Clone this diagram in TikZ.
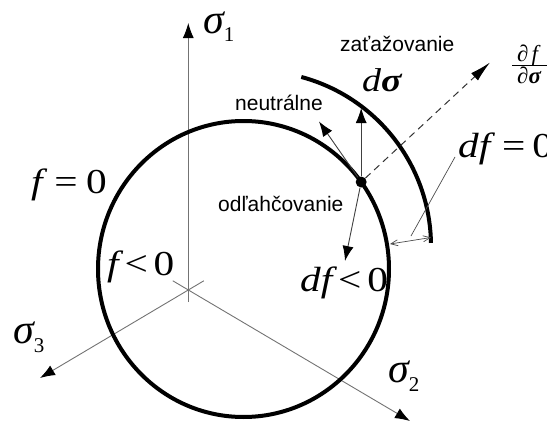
\documentclass[tikz,border=0pt]{standalone}
\usepackage{fontspec}
\usepackage{graphicx}
\usetikzlibrary{arrows.meta}
\newfontfamily\lblfont{Liberation Sans}
\newfontfamily\gfont{Liberation Serif}
\newcommand{\mvar}[1]{{\itshape #1}}
\newcommand{\widetxt}[1]{\scalebox{1.18}[1]{#1}}
\tikzset{
  axisarrow/.style={draw=black!55, line width=0.9pt, -{Latex[length=15pt,width=11pt,color=black]}},
  vecarrow/.style={draw=black!75, line width=0.9pt, -{Latex[length=15pt,width=11pt,color=black]}},
  thickcurve/.style={line width=4pt},
  sanslabel/.style={font=\lblfont\fontsize{21}{21}\selectfont, inner sep=0pt, anchor=base west},
  mathlabel/.style={font=\gfont\fontsize{35}{35}\selectfont, inner sep=0pt, anchor=base west},
  siglabel/.style={font=\gfont\fontsize{42}{42}\selectfont, inner sep=0pt, anchor=base west},
}
\begin{document}
\begin{tikzpicture}[x=1pt,y=-1pt]
\useasboundingbox (0,0) rectangle (547,423);
% axes
\coordinate (O) at (188.3,290);
\coordinate (s1) at (188.3,23);
\coordinate (s1b) at (188.3,302);
\coordinate (s2) at (410,421);
\coordinate (s2b) at (172.8,280.8);
\coordinate (s3) at (40,378);
\coordinate (s3b) at (203.8,280.8);
\draw[axisarrow] (s1b) -- (s1);
\draw[axisarrow] (s2b) -- (s2);
\draw[axisarrow] (s3b) -- (s3);
% yield surface and loaded surface
\coordinate (C) at (243.5,269);
\draw[thickcurve] (C) ellipse [x radius=145.5, y radius=148];
\coordinate (C2) at (256,246);
\draw[thickcurve] (C2) ++(-75:175) arc[start angle=-75, end angle=-1, radius=175];
% stress point
\node[circle, fill=black, inner sep=0pt, minimum size=11pt] (P) at (361.2,182) {};
\coordinate (tU) at (361.2,108);
\coordinate (tN) at (319,121.5);
\coordinate (tD) at (345,261);
\coordinate (tG) at (490,62.5);
\draw[vecarrow] (P) -- (tU);
\draw[vecarrow] (P) -- (tN);
\draw[vecarrow] (P) -- (tD);
\draw[black!80, line width=1pt, dash pattern=on 7pt off 5pt, -{Latex[length=21pt,width=10pt,color=black]}] (P) -- (tG);
% df = 0 gap
\coordinate (dA) at (390,244);
\coordinate (dB) at (431,237.5);
\draw[black!70, line width=0.7pt, {Straight Barb[length=7pt,width=6pt]}-{Straight Barb[length=7pt,width=6pt]}] (dA) -- (dB);
\coordinate (lA) at (455,157);
\coordinate (lB) at (411,236);
\draw[black!70, line width=0.7pt] (lA) -- (lB);
% labels
\node[sanslabel] (zat) at (340,52) {zaťažovanie};
\node[sanslabel] (neu) at (235,110.5) {neutrálne};
\node[sanslabel] (odl) at (218,211) {odľahčovanie};
\node[mathlabel] (feq) at (31,193) {\widetxt{\mvar{f}\hspace{10pt}=\hspace{7pt}0}};
\node[mathlabel] (flt) at (107,275) {\widetxt{\mvar{f}\hspace{5pt}<\hspace{5pt}0}};
\node[mathlabel] (dflt) at (300,291) {\widetxt{\mvar{df}\hspace{5pt}<\hspace{5pt}0}};
\node[mathlabel] (dfeq) at (458,157) {\widetxt{\mvar{df}\hspace{10pt}=\hspace{6pt}0}};
\node[mathlabel, font=\gfont\fontsize{33}{33}\selectfont] (dsig) at (362,91) {\scalebox{1.15}[1]{\mvar{d}{\bfseries\itshape σ}}};
\node[siglabel] (l1) at (203,33) {\mvar{σ}\raisebox{-9pt}{\fontsize{21}{21}\selectfont 1}};
\node[siglabel] (l2) at (388,382) {\mvar{σ}\raisebox{-9pt}{\fontsize{21}{21}\selectfont 2}};
\node[siglabel] (l3) at (13,343) {\mvar{σ}\raisebox{-9pt}{\fontsize{21}{21}\selectfont 3}};
% gradient fraction
\node[mathlabel, font=\gfont\fontsize{23}{23}\selectfont] (num) at (517,61) {∂\hspace{3pt}\mvar{f}};
\node[mathlabel, font=\gfont\fontsize{23}{23}\selectfont] (den) at (517,83) {∂{\bfseries\itshape σ}};
\coordinate (barL) at (512,65.5);
\coordinate (barR) at (560,65.5);
\draw[line width=1.4pt] (barL) -- (barR);
\end{tikzpicture}
\end{document}
